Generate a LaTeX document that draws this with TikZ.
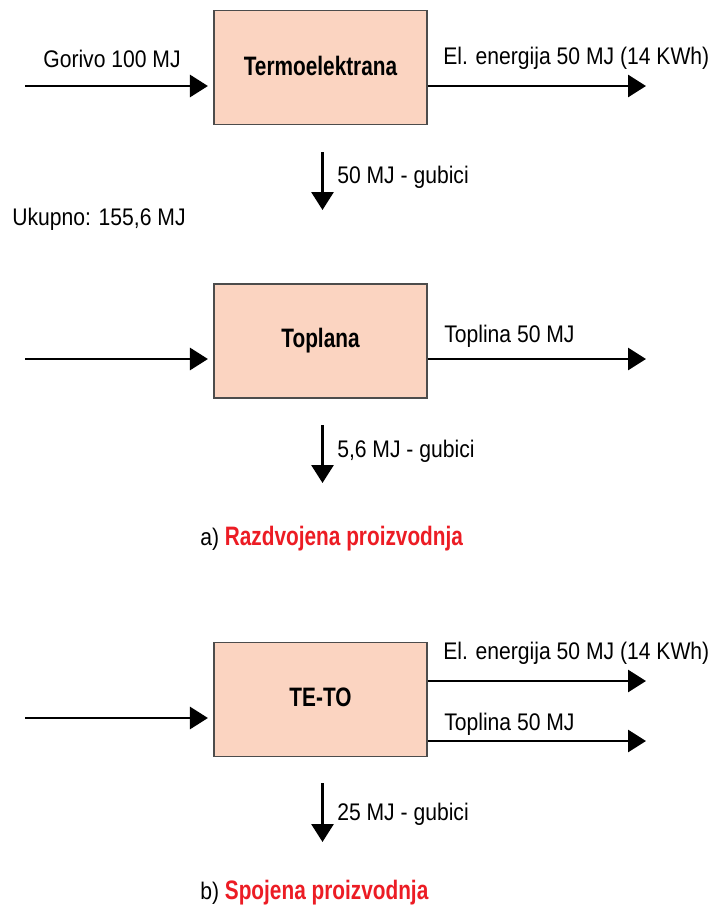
\documentclass[tikz,border=0pt]{standalone}
\usepackage{fontspec}
\setmainfont{Liberation Sans}[FakeStretch=0.88,BoldFeatures={FakeStretch=0.78}]
\usetikzlibrary{arrows.meta}

\definecolor{plantfill}{RGB}{251,212,193}
\definecolor{capred}{RGB}{236,28,36}

\begin{document}
\begin{tikzpicture}[
  x=0.75pt, y=-0.75pt,
  font=\fontsize{18}{21}\selectfont,
  plant/.style={draw=black!70, line width=1.1pt, fill=plantfill,
    minimum width=159.75pt, minimum height=85.5pt, inner sep=0pt,
    font=\fontsize{20}{24}\selectfont\bfseries},
  flow/.style={line width=2.2pt, -{Triangle[length=13.5pt,width=16.5pt]}},
  txt/.style={inner sep=0pt, anchor=base west},
  caption/.style={inner sep=0pt, anchor=base west},
]
\useasboundingbox (0,0) rectangle (710,908);

% a) razdvojena proizvodnja
\node[plant] (te) at (320.5,67.5) {\raisebox{3pt}{Termoelektrana}};
\coordinate (te in) at (25,86);
\coordinate (te out) at (646,86);
\draw[flow, shorten >=4pt] (te in) -- (te in -| te.west);
\draw[flow] (te.east |- te out) -- (te out);
\node[inner sep=0pt, anchor=base] (te fuel) at (112,67) {Gorivo 100 MJ};
\node[txt] (te el) at (443,64) {El. energija 50 MJ (14 KWh)};
\coordinate (te loss) at (322.5,152);
\coordinate (te loss end) at (322.5,210);
\draw[flow] (te loss) -- (te loss end);
\node[txt] (te loss txt) at (337,183) {50 MJ - gubici};
\node[txt] (total) at (12,225) {Ukupno: 155,6 MJ};

\node[plant] (tp) at (320.5,341) {\raisebox{3pt}{Toplana}};
\coordinate (tp in) at (25,359);
\coordinate (tp out) at (646,359);
\draw[flow, shorten >=4pt] (tp in) -- (tp in -| tp.west);
\draw[flow] (tp.east |- tp out) -- (tp out);
\node[txt] (tp heat) at (444,342) {Toplina 50 MJ};
\coordinate (tp loss) at (322.5,425);
\coordinate (tp loss end) at (322.5,483);
\draw[flow] (tp loss) -- (tp loss end);
\node[txt] (tp loss txt) at (337,457) {5,6 MJ - gubici};

\node[caption] (cap a) at (200,545) {a) {\color{capred}\fontsize{20}{24}\selectfont\bfseries Razdvojena proizvodnja}};

% b) spojena proizvodnja
\node[plant] (teto) at (320.5,699.5) {\raisebox{3pt}{TE-TO}};
\coordinate (teto in) at (25,718);
\coordinate (teto el) at (646,681);
\coordinate (teto heat) at (646,741);
\draw[flow, shorten >=4pt] (teto in) -- (teto in -| teto.west);
\draw[flow] (teto.east |- teto el) -- (teto el);
\draw[flow] (teto.east |- teto heat) -- (teto heat);
\node[txt] (teto el txt) at (443,659) {El. energija 50 MJ (14 KWh)};
\node[txt] (teto heat txt) at (444,730) {Toplina 50 MJ};
\coordinate (teto loss) at (322.5,783);
\coordinate (teto loss end) at (322.5,842);
\draw[flow] (teto loss) -- (teto loss end);
\node[txt] (teto loss txt) at (337,820) {25 MJ - gubici};

\node[caption] (cap b) at (200,899) {b) {\color{capred}\fontsize{20}{24}\selectfont\bfseries Spojena proizvodnja}};
\end{tikzpicture}
\end{document}
